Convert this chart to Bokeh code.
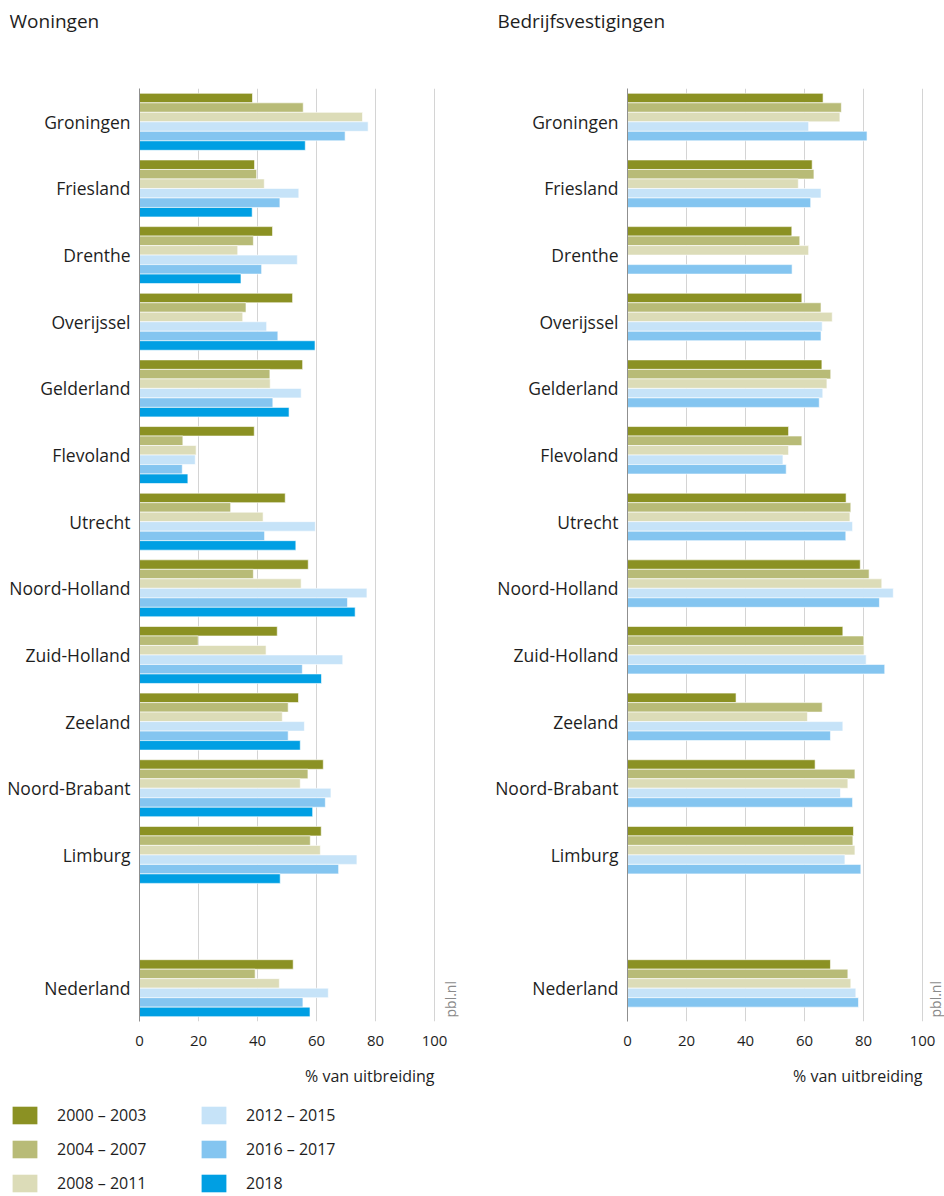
import math
from bokeh.plotting import figure
from bokeh.models import (ColumnDataSource, FactorRange, Range1d, FixedTicker, Label,
                          Legend, LegendItem)
from bokeh.layouts import column, row
from bokeh.transform import dodge
from bokeh.embed import file_html
from bokeh.resources import INLINE

# ---------------- data ----------------
regions = ["Groningen", "Friesland", "Drenthe", "Overijssel", "Gelderland", "Flevoland",
           "Utrecht", "Noord-Holland", "Zuid-Holland", "Zeeland", "Noord-Brabant",
           "Limburg", "Nederland"]
spacer = " "
periods = ["2000 – 2003", "2004 – 2007", "2008 – 2011", "2012 – 2015", "2016 – 2017", "2018"]
colors = ["#8b9123", "#b8bb77", "#dcdcb8", "#c6e3f8", "#84c5f0", "#009fe3"]
x_ticks = [0, 20, 40, 60, 80, 100]

# Woningen (% van uitbreiding)
w_2000_2003 = [38.3, 39.0, 45.1, 51.9, 55.3, 38.9, 49.4, 57.2, 46.7, 53.9, 62.3, 61.6, 52.1]
w_2004_2007 = [55.5, 39.7, 38.6, 36.1, 44.2, 14.7, 30.9, 38.6, 19.9, 50.4, 57.1, 57.9, 39.2]
w_2008_2011 = [75.6, 42.3, 33.3, 35.0, 44.3, 19.2, 41.9, 54.8, 42.9, 48.4, 54.5, 61.3, 47.4]
w_2012_2015 = [77.5, 54.0, 53.5, 43.1, 54.8, 18.9, 59.6, 77.1, 68.9, 55.9, 64.9, 73.7, 64.0]
w_2016_2017 = [69.7, 47.6, 41.4, 46.9, 45.2, 14.5, 42.4, 70.5, 55.2, 50.4, 63.0, 67.5, 55.4]
w_2018 = [56.2, 38.2, 34.4, 59.5, 50.7, 16.4, 53.0, 73.1, 61.7, 54.5, 58.7, 47.7, 57.8]

# Bedrijfsvestigingen (% van uitbreiding)
b_2000_2003 = [66.3, 62.6, 55.7, 59.1, 65.9, 54.6, 74.1, 78.9, 73.0, 36.8, 63.6, 76.6, 68.8]
b_2004_2007 = [72.5, 63.2, 58.4, 65.6, 68.9, 59.1, 75.7, 81.9, 80.1, 66.0, 77.1, 76.4, 74.7]
b_2008_2011 = [72.0, 57.9, 61.4, 69.4, 67.6, 54.6, 75.4, 86.2, 80.2, 61.0, 74.7, 77.1, 75.7]
b_2012_2015 = [61.4, 65.6, None, 66.0, 66.2, 52.7, 76.3, 90.1, 80.9, 73.0, 72.2, 73.7, 77.4]
b_2016_2017 = [81.2, 62.1, 55.8, 65.6, 65.0, 53.8, 74.0, 85.4, 87.2, 68.8, 76.3, 79.1, 78.3]
b_2018 = [None, None, None, None, None, None, None, None, None, None, None, None, None]

woningen = [w_2000_2003, w_2004_2007, w_2008_2011, w_2012_2015, w_2016_2017, w_2018]
bedrijven = [b_2000_2003, b_2004_2007, b_2008_2011, b_2012_2015, b_2016_2017, b_2018]

FONT = "Open Sans"
TXT = "#1e1e1e"
BAR_H = 0.1425
PX_PER_UNIT = 2.95
MAIN_H = 970
BOTTOM = 37


def blank_fig(width, height, left=0, top=0):
    f = figure(width=width, height=height, x_range=Range1d(0, 1), y_range=Range1d(0, 1),
               min_border_left=left, min_border_right=0,
               min_border_top=top, min_border_bottom=0,
               output_backend="svg", toolbar_location=None)
    f.axis.visible = False
    f.grid.grid_line_color = None
    f.outline_line_color = None
    return f


def panel(series, width, border_left, border_right, pbl_dx):
    factors = regions[:12] + [spacer] + regions[12:]
    frame_w = width - border_left - border_right
    p = figure(width=width, height=MAIN_H,
               y_range=FactorRange(*reversed(factors)),
               x_range=Range1d(0, frame_w / PX_PER_UNIT),
               min_border_left=border_left, min_border_right=border_right,
               min_border_top=0, min_border_bottom=BOTTOM,
               output_backend="svg", toolbar_location=None)
    p.outline_line_color = None

    n = len(series)
    for i, vals in enumerate(series):
        ys = [r for r, v in zip(regions, vals) if v is not None]
        xs = [v for v in vals if v is not None]
        if not xs:
            continue
        src = ColumnDataSource(dict(region=ys, value=xs))
        off = ((n - 1) / 2 - i) * BAR_H
        p.hbar(y=dodge("region", off, range=p.y_range), left=0, right="value",
               height=BAR_H, source=src, fill_color=colors[i],
               line_color="white", line_width=0.6)

    p.xaxis.ticker = FixedTicker(ticks=x_ticks)
    p.xaxis.axis_line_color = None
    p.xaxis.major_tick_line_color = None
    p.xaxis.minor_tick_line_color = None
    p.xaxis.major_label_text_font = FONT
    p.xaxis.major_label_text_font_size = "15px"
    p.xaxis.major_label_text_color = TXT
    p.xaxis.major_label_standoff = 8

    p.yaxis.axis_line_color = "#8f8f8f"
    p.yaxis.major_tick_line_color = None
    p.yaxis.minor_tick_line_color = None
    p.yaxis.major_label_text_font = FONT
    p.yaxis.major_label_text_font_size = "17.5px"
    p.yaxis.major_label_text_color = TXT
    p.yaxis.major_label_standoff = 3

    p.xgrid.grid_line_color = "#d4d4d4"
    p.ygrid.grid_line_color = None

    p.add_layout(Label(x=100, y=4, x_units="data", y_units="screen", x_offset=pbl_dx,
                       text="pbl.nl", angle=math.pi / 2, text_font=FONT,
                       text_font_size="14px", text_color="#8a8a8a",
                       text_baseline="middle", text_align="left"))
    return p


# titles
pt = blank_fig(944, 88)
for x, t in [(0, "Woningen"), (488, "Bedrijfsvestigingen")]:
    pt.add_layout(Label(x=x, y=68, x_units="screen", y_units="screen", text=t,
                        text_font=FONT, text_font_size="19px", text_color=TXT,
                        text_baseline="alphabetic", text_align="left"))

p1 = panel(woningen, 490, 139, 32, 16)
p2 = panel(bedrijven, 454, 137, 0, 13)

# axis titles
pa = blank_fig(944, 38)
for x in [425, 913]:
    pa.add_layout(Label(x=x, y=21, x_units="screen", y_units="screen",
                        text="% van uitbreiding", text_font=FONT, text_font_size="16px",
                        text_color=TXT, text_baseline="alphabetic", text_align="right"))

# legend (one off-frame proxy swatch per period)
pl = blank_fig(944, 98, left=9, top=8)
items = []
for per, col in zip(periods, colors):
    r = pl.quad(left=[2], right=[3], top=[3], bottom=[2], fill_color=col, line_color=None)
    items.append(LegendItem(label=per, renderers=[r]))
leg = Legend(items=items, location="top_left", orientation="vertical", nrows=3,
             glyph_width=31, glyph_height=22, label_height=22, label_width=129,
             label_standoff=17, spacing=12, padding=0, margin=0,
             border_line_color=None, background_fill_alpha=0,
             label_text_font=FONT, label_text_font_size="16px", label_text_color=TXT)
pl.add_layout(leg)

layout = column(pt, row(p1, p2), pa, pl)
open("out.html", "w").write(file_html(layout, INLINE))
